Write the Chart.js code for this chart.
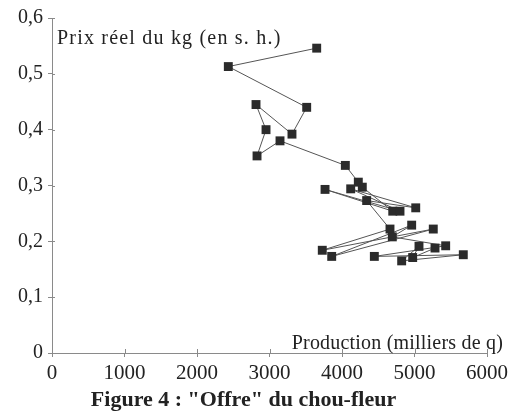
<!DOCTYPE html>
<html><head><meta charset="utf-8">
<script src="https://cdn.jsdelivr.net/npm/chart.js@4"></script>
<style>html,body{margin:0;padding:0;background:#fff}canvas{display:block}</style>
</head><body>
<canvas id="c" width="515" height="416"></canvas>
<script>
// Production (milliers de q) and real price per kg, in the order the path joins them
const production = [3651,2432,3513,3310,2814,2952,2828,3145,4046,4225,4280,4700,3766,4800,4120,5017,4340,4662,3728,5259,3858,4961,4694,5430,4446,5673,4823,5062,4975,5283];
const prix = [0.546,0.513,0.440,0.392,0.445,0.400,0.353,0.380,0.336,0.306,0.297,0.254,0.293,0.254,0.294,0.260,0.273,0.222,0.184,0.222,0.173,0.229,0.208,0.192,0.173,0.176,0.165,0.191,0.171,0.188];
const xTicks = [0,1000,2000,3000,4000,5000,6000];
const yTicks = [0,0.1,0.2,0.3,0.4,0.5,0.6];
const yTickLabels = ['0','0,1','0,2','0,3','0,4','0,5','0,6'];
const yTitle = 'Prix réel du kg (en s. h.)';
const xTitle = 'Production (milliers de q)';
const figTitle = 'Figure 4 : "Offre" du chou-fleur';

const points = production.map((p,i)=>({x:p,y:prix[i]}));
const FONT = '"Liberation Serif", "Times New Roman", serif';
const AX = '#8a8a8a';

const extras = {
  id:'extras',
  afterDraw(chart){
    const ctx = chart.ctx, xs = chart.scales.x, ys = chart.scales.y, a = chart.chartArea;
    ctx.save();
    ctx.strokeStyle = AX; ctx.lineWidth = 1;
    ctx.beginPath();
    yTicks.forEach(v=>{ const py = Math.round(ys.getPixelForValue(v))+0.5; ctx.moveTo(a.left, py); ctx.lineTo(a.left+3, py); });
    xTicks.forEach(v=>{ const px = Math.round(xs.getPixelForValue(v))+0.5; ctx.moveTo(px, a.bottom); ctx.lineTo(px, a.bottom-4); });
    ctx.stroke();
    ctx.fillStyle = '#222';
    ctx.font = '20px ' + FONT;
    ctx.textBaseline = 'alphabetic';
    ctx.textAlign = 'left';
    ctx.letterSpacing = '1.2px';
    ctx.fillText(yTitle, a.left+5, 44);
    ctx.textAlign = 'right';
    ctx.letterSpacing = '0.2px';
    ctx.fillText(xTitle, 503, 349);
    ctx.restore();
  }
};

new Chart(document.getElementById('c'), {
  type:'scatter',
  data:{ datasets:[{
    data: points,
    showLine:true,
    borderColor:'#555',
    borderWidth:1,
    pointStyle:'rect',
    pointRadius:6.3,
    pointBackgroundColor:'#2b2b2b',
    pointBorderColor:'#2b2b2b',
    pointBorderWidth:0,
    tension:0
  }]},
  options:{
    responsive:false,
    animation:false,
    layout:{ padding:{ top:18, right:28, left:0, bottom:0 } },
    plugins:{
      legend:{display:false},
      tooltip:{enabled:false},
      title:{ display:true, position:'bottom', text:figTitle, color:'#222',
        font:{ family:FONT, size:22, weight:'bold', lineHeight:1.2 }, padding:{top:0,bottom:2} }
    },
    scales:{
      x:{ type:'linear', min:0, max:6000,
        afterBuildTicks(s){ s.ticks = xTicks.map(v=>({value:v})); },
        afterFit(s){ s.height = 34.6; },
        grid:{ drawOnChartArea:false, tickLength:4, color:AX },
        border:{ display:true, color:AX, width:1 },
        ticks:{ color:'#222', padding:4, maxRotation:0, font:{family:FONT, size:21},
          callback:(v)=>String(v) } },
      y:{ type:'linear', min:0, max:0.6,
        afterBuildTicks(s){ s.ticks = yTicks.map(v=>({value:v})); },
        afterFit(s){ s.width = 52; },
        grid:{ drawOnChartArea:false, tickLength:4, color:AX },
        border:{ display:true, color:AX, width:1 },
        ticks:{ color:'#222', padding:5, font:{family:FONT, size:20},
          callback:(v,i)=>yTickLabels[i] } }
    }
  },
  plugins:[extras]
});
</script>
</body></html>
